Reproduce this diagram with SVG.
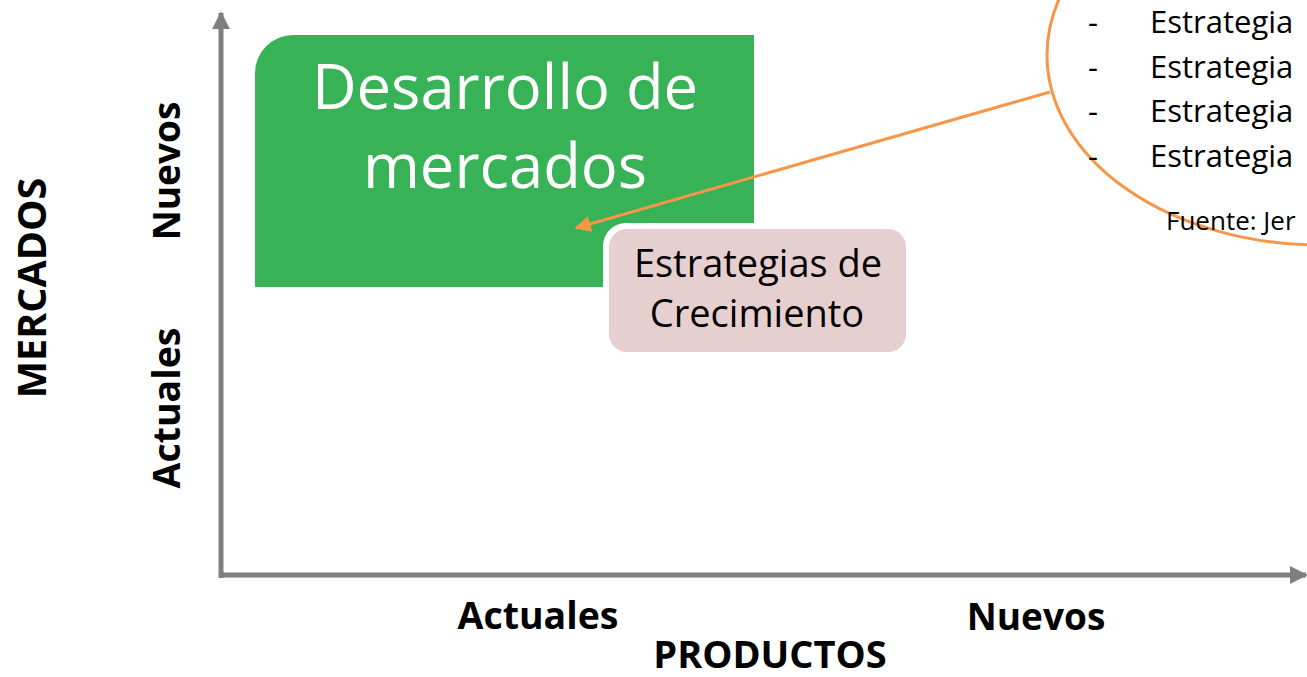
<svg xmlns="http://www.w3.org/2000/svg" width="1307" height="677" viewBox="0 0 1307 677">
<defs>
<style>
.lbl{font-family:"Open Sans","Noto Sans",sans-serif;font-weight:bold;fill:#000;}
.reg{font-family:"Open Sans","Noto Sans",sans-serif;fill:#000;}
.axis{stroke:#7f7f7f;stroke-width:5;fill:none;}
</style>
<marker id="axhead" viewBox="0 0 10 10" refX="9" refY="5" markerWidth="3.6" markerHeight="3.6" orient="auto" markerUnits="strokeWidth">
<path d="M0,0 L10,5 L0,10 Z" fill="#7f7f7f"/>
</marker>
<marker id="orhead" viewBox="0 0 10 10" refX="9" refY="5" markerWidth="5.5" markerHeight="5.5" orient="auto" markerUnits="strokeWidth">
<path d="M0,0 L10,5 L0,10 Z" fill="#f79646"/>
</marker>
</defs>
<rect width="1307" height="677" fill="#ffffff"/>

<g id="axes">
<line class="axis" x1="221" y1="578" x2="221" y2="13" marker-end="url(#axhead)"/>
<line class="axis" x1="219" y1="575" x2="1306" y2="575" marker-end="url(#axhead)"/>
</g>

<g id="axis-labels">
<text class="lbl" font-size="39.5" text-anchor="middle" transform="translate(46,288) rotate(-90)">MERCADOS</text>
<text class="lbl" font-size="37" text-anchor="middle" transform="translate(180,171) rotate(-90)">Nuevos</text>
<text class="lbl" font-size="37.5" text-anchor="middle" transform="translate(180,408) rotate(-90)">Actuales</text>
<text class="lbl" font-size="37.5" text-anchor="middle" x="538" y="629">Actuales</text>
<text class="lbl" font-size="37" text-anchor="middle" x="1036" y="630">Nuevos</text>
<text class="lbl" font-size="38" text-anchor="middle" x="770" y="668">PRODUCTOS</text>
</g>

<g id="node-desarrollo">
<path d="M255,287 V73 A38,38 0 0 1 293,35 H754 V287 Z" fill="#37b257"/>
<text class="reg" font-size="61.5" style="fill:#ffffff" text-anchor="middle" x="505" y="109">Desarrollo de</text>
<text class="reg" font-size="61.5" style="fill:#ffffff" text-anchor="middle" x="505" y="188">mercados</text>
</g>

<g id="node-estrategias">
<rect x="603" y="223" width="309" height="135" rx="23" fill="#ffffff"/>
<rect x="609" y="229" width="297" height="123" rx="18" fill="#e6cfcf"/>
<text class="reg" font-size="38" text-anchor="middle" x="758" y="277">Estrategias de</text>
<text class="reg" font-size="38" text-anchor="middle" x="757" y="327">Crecimiento</text>
</g>

<g id="node-callout">
<ellipse cx="1320" cy="55" rx="273" ry="190" fill="#ffffff" stroke="#f79646" stroke-width="3"/>
<text class="reg" font-size="31" x="1088" y="33">-</text>
<text class="reg" font-size="31" x="1150" y="33">Estrategia</text>
<text class="reg" font-size="31" x="1088" y="78">-</text>
<text class="reg" font-size="31" x="1150" y="78">Estrategia</text>
<text class="reg" font-size="31" x="1088" y="122">-</text>
<text class="reg" font-size="31" x="1150" y="122">Estrategia</text>
<text class="reg" font-size="31" x="1088" y="167">-</text>
<text class="reg" font-size="31" x="1150" y="167">Estrategia</text>
<text class="reg" font-size="26" x="1166" y="230">Fuente: Jer</text>
</g>

<g id="connectors">
<line x1="1050" y1="92" x2="576" y2="228" stroke="#f79646" stroke-width="3" marker-end="url(#orhead)"/>
</g>
</svg>
